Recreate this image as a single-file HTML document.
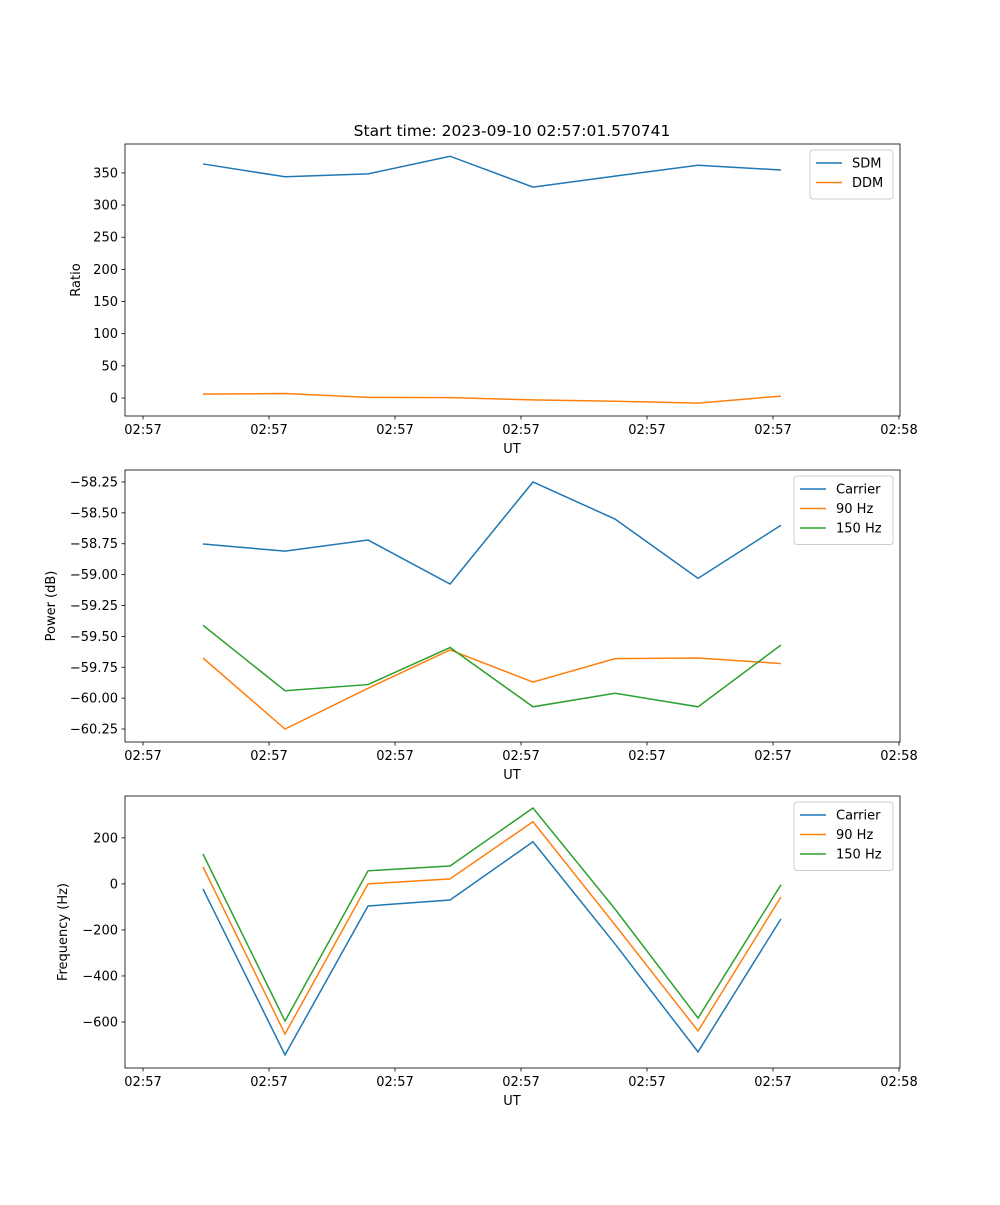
<!DOCTYPE html>
<html><head><meta charset="utf-8"><style>
body{margin:0;background:#fff}
svg text{font-family:"DejaVu Sans","Liberation Sans",sans-serif;font-size:13px;fill:#000}
</style></head><body>
<svg id="fig" width="1000" height="1200" xmlns="http://www.w3.org/2000/svg"></svg>
<script>
const times=[4.76,11.27,17.86,24.37,30.95,37.46,44.05,50.63];
const xTickVals=[0,10,20,30,40,50,60];
const xTickLabels=["02:57","02:57","02:57","02:57","02:57","02:57","02:58"];
const sdm=[364,344,348.5,376,328,345,362,354.6];
const ddm=[6,7,1,0.5,-3,-5,-8,3];
const pCarrier=[-58.752,-58.81,-58.72,-59.076,-58.25,-58.55,-59.03,-58.60];
const p90=[-59.675,-60.25,-59.92,-59.61,-59.87,-59.68,-59.675,-59.72];
const p150=[-59.41,-59.94,-59.89,-59.59,-60.07,-59.96,-60.07,-59.57];
const fCarrier=[-22,-743,-96,-70,183,-261,-730,-152];
const f90=[74,-652,0,22,270,-178,-639,-57];
const f150=[130,-596,57,78,330,-109,-583,-4];
const ticks1=[0,50,100,150,200,250,300,350];
const ticks2=[-60.25,-60,-59.75,-59.5,-59.25,-59,-58.75,-58.5,-58.25];
const ticks3=[-600,-400,-200,0,200];

const NS="http://www.w3.org/2000/svg";
const svg=document.getElementById('fig');
function el(t,a,p){const e=document.createElementNS(NS,t);for(const k in a)e.setAttribute(k,a[k]);(p||svg).appendChild(e);return e;}
const L=125,R=900,xmin=-1.43,xmax=60.08;
const sx=v=>L+(v-xmin)/(xmax-xmin)*(R-L);
const C=['#1f77b4','#ff7f0e','#2ca02c'];

function panel(name,top,ymin,ymax,yt,fmt,ylabel,series,labels,legX,legW){
  const bot=top+272;
  const g=el('g',{});
  
  
  const sy=v=>bot-(v-ymin)/(ymax-ymin)*(bot-top);
  series.forEach((s,i)=>{
    const p=el('polyline',{points:s.map((v,j)=>sx(times[j])+','+sy(v)).join(' '),fill:'none',stroke:C[i],'stroke-width':1.5},g);
    
    
  });
  el('rect',{x:L,y:top,width:R-L,height:bot-top,fill:'none',stroke:'#000','stroke-width':0.8},g);
  xTickVals.forEach((v,i)=>{
    const x=sx(v);
    el('line',{x1:x,x2:x,y1:bot,y2:bot+3.5,stroke:'#000','stroke-width':0.8},g);
    const t=el('text',{x:x,y:bot+18,'text-anchor':'middle'},g);t.textContent=xTickLabels[i];
    
    
  });
  yt.forEach(v=>{
    const y=sy(v);
    el('line',{x1:L-3.5,x2:L,y1:y,y2:y,stroke:'#000','stroke-width':0.8},g);
    const t=el('text',{x:L-7,y:y+4.5,'text-anchor':'end'},g);t.textContent=fmt(v);
    
    
  });
  const xl=el('text',{x:512,y:bot+37,'text-anchor':'middle'},g);xl.textContent='UT';
  
  
  const yx=ylabel.x;
  const yl=el('text',{x:yx,y:(top+bot)/2,'text-anchor':'middle',transform:`rotate(-90 ${yx} ${(top+bot)/2})`},g);yl.textContent=ylabel.t;
  
  
  const lh=19.5*labels.length+10;
  const lg=el('g',{},g);
  
  
  el('rect',{x:legX,y:top+6,width:legW,height:lh,fill:'#fff',stroke:'#ccc',rx:3},lg);
  labels.forEach((lab,i)=>{
    const y=top+19+i*19.5;
    el('line',{x1:legX+6,x2:legX+32,y1:y,y2:y,stroke:C[i],'stroke-width':1.5},lg);
    const t=el('text',{x:legX+42,y:y+4.5},lg);t.textContent=lab;
    
    
  });
}
const minus=s=>s.replace('-','\u2212');
panel('ratio-panel',144,-28,395,ticks1,v=>minus(String(v)),{x:80,t:'Ratio'},[sdm,ddm],['SDM','DDM'],810,83);
panel('power-panel',470,-60.355,-58.153,ticks2,v=>minus(v.toFixed(2)),{x:55,t:'Power (dB)'},[pCarrier,p90,p150],['Carrier','90 Hz','150 Hz'],794,99);
panel('frequency-panel',796,-800,382,ticks3,v=>minus(String(v)),{x:67,t:'Frequency (Hz)'},[fCarrier,f90,f150],['Carrier','90 Hz','150 Hz'],794,99);
const title=el('text',{x:512,y:136,'text-anchor':'middle',style:'font-size:15.5px'});
title.textContent='Start time: 2023-09-10 02:57:01.570741';


</script>
</body></html>
